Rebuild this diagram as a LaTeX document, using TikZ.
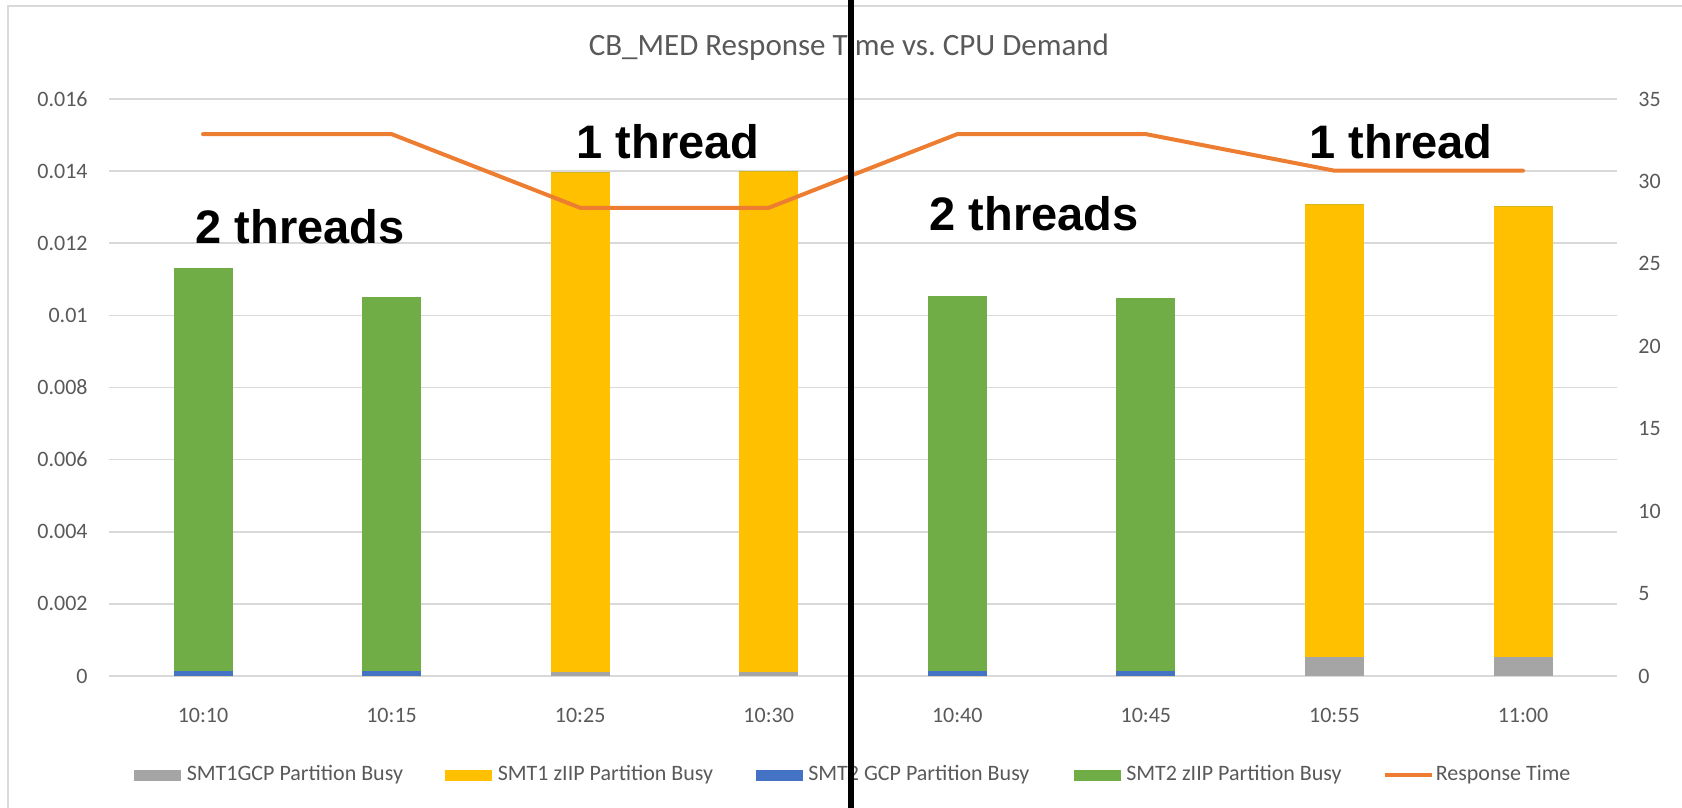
\documentclass[tikz,border=0pt]{standalone}
\usepackage{fontspec}
\setmainfont{Carlito}
\newfontfamily\annfont{Liberation Sans}
\usetikzlibrary{positioning}

\definecolor{gridgray}{HTML}{D9D9D9}
\definecolor{labelgray}{HTML}{595959}
\definecolor{smtAgcp}{HTML}{A5A5A5}
\definecolor{smtAziip}{HTML}{FFC000}
\definecolor{smtBgcp}{HTML}{4472C4}
\definecolor{smtBziip}{HTML}{70AD47}
\definecolor{resp}{HTML}{ED7D31}

\newcommand{\titlefont}{\fontsize{15.5}{19}\selectfont}
\newlength{\titlepre}
\settowidth{\titlepre}{\titlefont CB\_MED Response T}

\begin{document}
\begin{tikzpicture}[x=0.5pt, y=-0.5pt,
    grid/.style={gridgray, line width=0.8pt},
    axislabel/.style={font=\fontsize{11}{13}\selectfont, text=labelgray, inner sep=0pt},
    legendtext/.style={font=\fontsize{11}{13}\selectfont, text=labelgray, inner sep=0pt, anchor=west},
    swatch/.style={minimum width=23.5pt, minimum height=5.5pt, inner sep=0pt},
    threadlabel/.style={font=\annfont\bfseries\fontsize{23.5}{28}\selectfont, inner sep=0pt},
    respline/.style={resp, line width=2pt, line cap=round, line join=round}]
    \useasboundingbox (0,0) rectangle (1682,808);
    \clip (0,0) rectangle (1682,808);
    \draw[gridgray, line width=1pt] (8,6) rectangle (1720,840);

    % title, placed so that the separator runs through the i of Time
    \node[font=\titlefont, text=labelgray, inner sep=0pt, anchor=west,
        xshift={-\titlepre-1.8pt}] (title) at (851,47) {CB\_MED Response Time vs.\ CPU Demand};

    % gridlines and left axis
    \foreach \k/\t in {0/0,1/0.002,2/0.004,3/0.006,4/0.008,5/0.01,6/0.012,7/0.014,8/0.016}{
        \draw[grid] (109,{676-72.125*\k}) -- (1617,{676-72.125*\k});
        \node[axislabel, anchor=east] (lt\k) at (88,{676-72.125*\k}) {\t};
    }
    % right axis
    \foreach \k in {0,...,7}{
        \pgfmathtruncatemacro\v{5*\k}
        \node[axislabel, anchor=west] (rt\k) at (1638,{676-82.43*\k}) {\v};
    }

    % stacked bars: SMT1 GCP / SMT1 zIIP / SMT2 GCP / SMT2 zIIP, response time
    \foreach \i/\lab/\ga/\ya/\gb/\yb/\rt in {0/10:10/0/0/0.15/11.16/32.87,
        1/10:15/0/0/0.15/10.36/32.87, 2/10:25/0.1/13.88/0/0/28.4,
        3/10:30/0.1/13.9/0/0/28.4, 4/10:40/0/0/0.15/10.39/32.87,
        5/10:45/0/0/0.15/10.33/32.87, 6/10:55/0.54/12.55/0/0/30.65,
        7/11:00/0.54/12.49/0/0/30.65}{
        \pgfmathsetmacro\xc{203+188.57*\i}
        \pgfmathsetmacro\yA{676-36.06*\ga}
        \pgfmathsetmacro\yB{\yA-36.06*\ya}
        \pgfmathsetmacro\yC{\yB-36.06*\gb}
        \pgfmathsetmacro\yD{\yC-36.06*\yb}
        \fill[smtAgcp] ({\xc-29.5},676) rectangle ({\xc+29.5},\yA);
        \fill[smtAziip] ({\xc-29.5},\yA) rectangle ({\xc+29.5},\yB);
        \fill[smtBgcp] ({\xc-29.5},\yB) rectangle ({\xc+29.5},\yC);
        \fill[smtBziip] ({\xc-29.5},\yC) rectangle ({\xc+29.5},\yD);
        \node[axislabel] (cat\i) at (\xc,715) {\lab};
        \coordinate (rp\i) at (\xc,{676-16.486*\rt});
    }
    \draw[respline] (rp0) -- (rp1) -- (rp2) -- (rp3) -- (rp4) -- (rp5) -- (rp6) -- (rp7);

    % legend
    \node[swatch, fill=smtAgcp] (lgA) at (157.5,775) {};
    \node[legendtext, right=2.5pt of lgA] (lgAtxt) {SMT1GCP Partition Busy};
    \node[swatch, fill=smtAziip] (lgB) at (468.5,775) {};
    \node[legendtext, right=2.5pt of lgB] (lgBtxt) {SMT1 zIIP Partition Busy};
    \node[swatch, fill=smtBgcp] (lgC) at (779,775) {};
    \node[legendtext, right=2.5pt of lgC] (lgCtxt) {SMT2 GCP Partition Busy};
    \node[swatch, fill=smtBziip] (lgD) at (1097,775) {};
    \node[legendtext, right=2.5pt of lgD] (lgDtxt) {SMT2 zIIP Partition Busy};
    \node[swatch] (lgE) at (1408.5,775) {};
    \draw[resp, line width=2pt] (lgE.west) -- (lgE.east);
    \node[legendtext, right=1.5pt of lgE] (lgEtxt) {Response Time};

    % thread annotations
    \node[threadlabel] (twoA) at (300,227) {2 threads};
    \node[threadlabel] (oneA) at (668,142) {1 thread};
    \node[threadlabel] (twoB) at (1034,214) {2 threads};
    \node[threadlabel] (oneB) at (1401,142) {1 thread};

    % separator
    \coordinate (sepTop) at (851,0);
    \coordinate (sepBot) at (851,808);
    \draw[line width=3pt] (sepTop) -- (sepBot);
\end{tikzpicture}
\end{document}
